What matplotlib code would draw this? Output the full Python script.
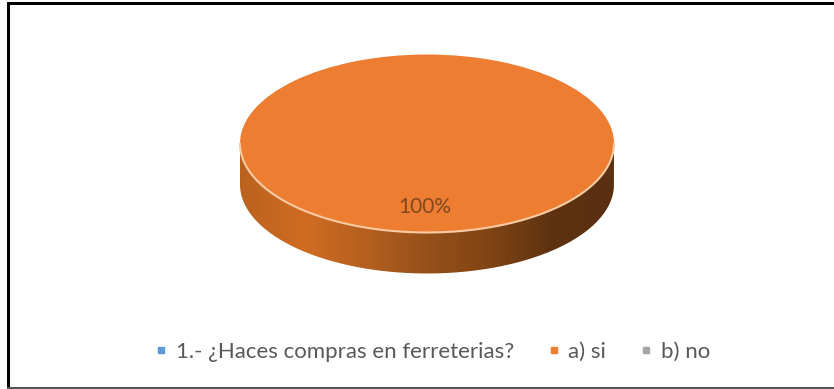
import numpy as np
import matplotlib
matplotlib.use("Agg")
import matplotlib.pyplot as plt
from matplotlib.colors import LinearSegmentedColormap
from matplotlib.lines import Line2D
from matplotlib.patches import PathPatch, Rectangle
from matplotlib.path import Path

plt.rcParams["font.family"] = ["Lato", "DejaVu Sans"]

# Survey responses
categories = ["1.- ¿Haces compras en ferreterias?", "a) si", "b) no"]
shares = [0, 100, 0]
value_label = "100%"
colors = ["#5B9BD5", "#ED7D31", "#A5A5A5"]

W, H = 834, 389
CX, CY, RX, RY = 427, 143.5, 187, 89
DEPTH = 41 / RY

fig = plt.figure(figsize=(W / 100, H / 100), dpi=100, facecolor="white")
ax = fig.add_axes([0, 0, 1, 1])

# Pie drawn on a unit circle; the axes limits squash it into a tilted ellipse
wedges, _ = ax.pie(shares, colors=colors, radius=1, center=(0, 0), startangle=90,
                   frame=True, wedgeprops={"linewidth": 0, "zorder": 3})
ax.set_aspect("auto")
ax.axis("off")

# Side wall of the disc, shaded from left to right
t = np.linspace(np.pi, 2 * np.pi, 200)
rim_x, rim_y = np.cos(t), np.sin(t)
wall_xy = np.vstack([np.column_stack([rim_x, rim_y]),
                     np.column_stack([rim_x[::-1], rim_y[::-1] - DEPTH])])
wall = PathPatch(Path(np.vstack([wall_xy, wall_xy[0]])), fc="none", ec="none")
ax.add_patch(wall)
cmap = LinearSegmentedColormap.from_list(
    "wall", ["#B9621F", "#D06C22", "#B5601F", "#96501A", "#804414", "#5E3210", "#5A3010"])
img = ax.imshow(np.linspace(0, 1, 256)[None, :], cmap=cmap, aspect="auto",
                extent=(-1, 1, -1 - DEPTH, 0), zorder=2)
img.set_clip_path(wall)
ax.set_xlim(-CX / RX, (W - CX) / RX)
ax.set_ylim((CY - H) / RY, CY / RY)

# Pale highlight along the front edge of the top face
ax.plot(rim_x, rim_y, color="#F9CBA3", lw=1.5, zorder=4, solid_capstyle="round")

ax.text(-2 / RX, (CY - 207) / RY, value_label, ha="center", va="center",
        fontsize=15, color="#80481F", zorder=5)

handles = [Line2D([], [], linestyle="none", marker="s", markersize=5, color=c)
           for c in colors]
ax.legend(handles, categories, loc="center", ncols=3, frameon=False,
          bbox_to_anchor=(430 / W, 1 - 352 / H), bbox_transform=fig.transFigure,
          fontsize=16, labelcolor="#595959", handletextpad=0.15, columnspacing=1.3,
          handlelength=1, borderpad=0, borderaxespad=0)

# Heavy frame on the left and top, thin grey line along the bottom
fig.add_artist(Rectangle((7 / W, 0), 3 / W, 1 - 2 / H, transform=fig.transFigure,
                         fc="#000000", ec="none"))
fig.add_artist(Rectangle((7 / W, 1 - 5 / H), 1 - 7 / W, 3 / H, transform=fig.transFigure,
                         fc="#000000", ec="none"))
fig.add_artist(Rectangle((7 / W, 0), 1 - 7 / W, 2 / H, transform=fig.transFigure,
                         fc="#555555", ec="none"))

fig.savefig("out.png", dpi=100)
